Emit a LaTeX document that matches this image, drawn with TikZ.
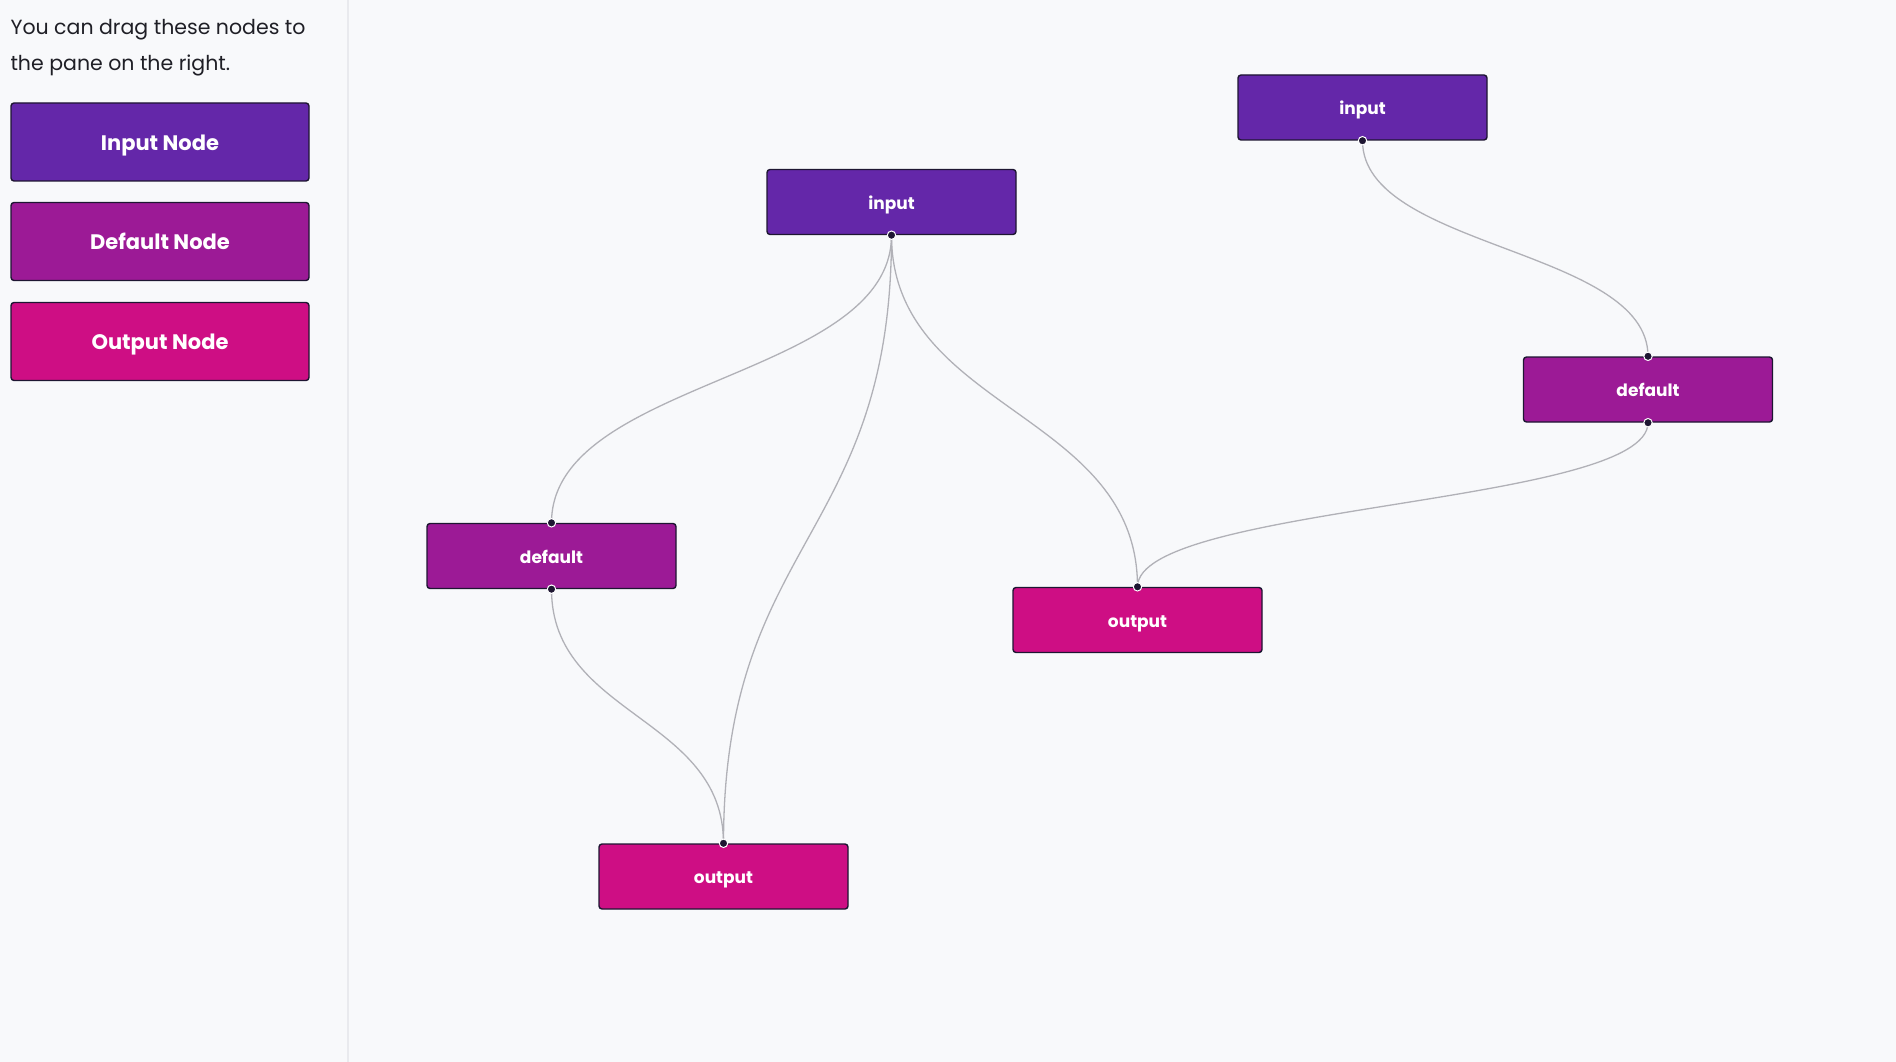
\documentclass[tikz,border=0pt]{standalone}
\usepackage{fontspec}
\setmainfont{Poppins}
\usetikzlibrary{calc}

\definecolor{bgpane}{HTML}{F8F9FB}
\definecolor{divider}{HTML}{E9EAEE}
\definecolor{inputcol}{HTML}{6427A9}
\definecolor{defaultcol}{HTML}{9C1A96}
\definecolor{outputcol}{HTML}{CE0E84}
\definecolor{rim}{HTML}{1E1632}
\definecolor{edgegray}{HTML}{B1B1B7}
\definecolor{hintcol}{HTML}{1F1F26}

\begin{document}
\begin{tikzpicture}[x=1pt, y=-1pt,
  flownode/.style={draw=rim, line width=1.4pt, rounded corners=3pt,
    minimum width=249pt, minimum height=65pt, text=white,
    text height=15pt, text depth=1pt,
    font=\fontsize{17}{20}\selectfont\bfseries},
  paletteitem/.style={flownode, minimum width=298pt, minimum height=78pt,
    text height=18pt, text depth=2pt,
    font=\fontsize{21}{24}\selectfont\bfseries},
  edge/.style={draw=edgegray, line width=1.3pt,
    to path={let \p1=(\tikztostart), \p2=(\tikztotarget) in
      .. controls (\x1,{(\y1+\y2)/2}) and (\x2,{(\y1+\y2)/2}) .. (\tikztotarget)}},
  handle/.style={fill=rim, draw=white, line width=1pt}]

  % pane background
  \fill[bgpane] (0,0) rectangle (1896,1062);
  \useasboundingbox (0,0) rectangle (1896,1062);
  \draw[divider, line width=2pt] (348,0) -- (348,1062);

  % sidebar
  \node[anchor=base west, text=hintcol, font=\fontsize{20.5}{24}\selectfont]
    (hint1) at (7,35) {You can drag these nodes to};
  \node[anchor=base west, text=hintcol, font=\fontsize{20.5}{24}\selectfont]
    (hint2) at (7,71) {the pane on the right.};
  \node[paletteitem, fill=inputcol]   (palin)  at (160,142)   {Input Node};
  \node[paletteitem, fill=defaultcol] (paldef) at (160,241.5) {Default Node};
  \node[paletteitem, fill=outputcol]  (palout) at (160,341.5) {Output Node};

  % flow nodes
  \node[flownode, fill=inputcol]   (in1) at (891.5,202)   {input};
  \node[flownode, fill=inputcol]   (in2) at (1362.5,107.5) {input};
  \node[flownode, fill=defaultcol] (de1) at (551.5,556)   {default};
  \node[flownode, fill=defaultcol] (de2) at (1648,389.5)  {default};
  \node[flownode, fill=outputcol]  (ou1) at (1137.5,620)  {output};
  \node[flownode, fill=outputcol]  (ou2) at (723.5,876.5) {output};

  % edges
  \draw[edge] (in1.south) to (de1.north);
  \draw[edge] (in1.south) to (ou2.north);
  \draw[edge] (in1.south) to (ou1.north);
  \draw[edge] (de1.south) to (ou2.north);
  \draw[edge] (in2.south) to (de2.north);
  \draw[edge] (de2.south) to (ou1.north);

  % handles
  \foreach \n in {in1, in2, de1, de2}
    \draw[handle] (\n.south) circle (4.2pt);
  \foreach \n in {de1, de2, ou1, ou2}
    \draw[handle] (\n.north) circle (4.2pt);
\end{tikzpicture}
\end{document}
